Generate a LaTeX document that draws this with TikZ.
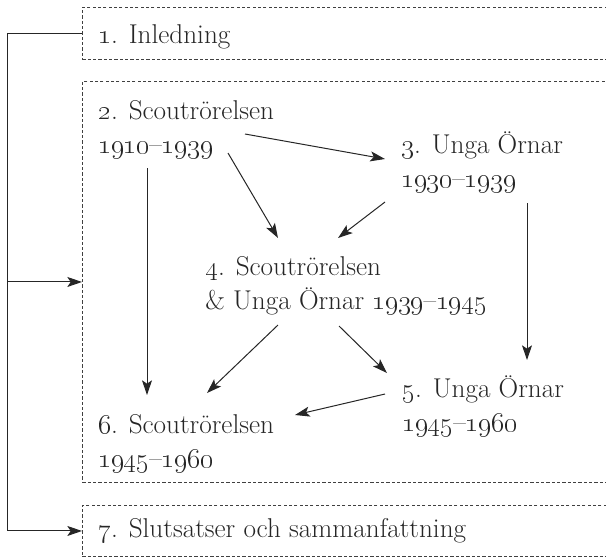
\documentclass[tikz,border=0pt]{standalone}
\usepackage{fix-cm}
\usetikzlibrary{arrows.meta}
\newcommand\myosf[1]{\oldstylenums{#1}}
\begin{document}
\begin{tikzpicture}[x=0.75pt,y=-0.75pt,
  lbl/.style={anchor=base west, inner sep=0pt, text=black!85, font=\fontsize{20.4}{25.5}\selectfont},
  dashbox/.style={draw=black!75, line width=0.7pt, dash pattern=on 2.4pt off 1.6pt, inner sep=0pt, anchor=north west, minimum width=538*0.75pt},
  con/.style={draw=black!85, line width=0.75pt},
  arr/.style={con, -{Stealth[length=11pt,width=7.5pt,inset=2.5pt]}}]
\useasboundingbox (0,0) rectangle (606,557);
\begin{scope}
\clip (0,0) rectangle (606,557);
\node[dashbox, minimum height=52*0.75pt] (b1) at (82,7) {};
\node[dashbox, minimum height=401*0.75pt] (b2) at (82,81) {};
\node[dashbox, minimum height=51*0.75pt] (b7) at (82,505) {};
\end{scope}
\coordinate (spine) at (7,0);
\draw[con] (b1.west) -- (b1.west -| spine) -- (b7.west -| spine);
\draw[arr] (b2.west -| spine) -- (b2.west);
\draw[arr] (b7.west -| spine) -- (b7.west);

\node[lbl] (n1) at (98,43) {\myosf{1}. Inledning};
\node[lbl] (n2) at (98,119) {\begin{tabular}[t]{@{}l@{}}\myosf{2}. Scoutrörelsen\\ \myosf{1910}–\myosf{1939}\end{tabular}};
\node[lbl] (n3) at (401,153) {\begin{tabular}[t]{@{}l@{}}\myosf{3}. Unga Örnar\\ \myosf{1930}–\myosf{1939}\end{tabular}};
\node[lbl] (n4) at (205,275) {\begin{tabular}[t]{@{}l@{}}\myosf{4}. Scoutrörelsen\\ \& Unga Örnar \myosf{1939}–\myosf{1945}\end{tabular}};
\node[lbl] (n5) at (402,397) {\begin{tabular}[t]{@{}l@{}}\myosf{5}. Unga Örnar\\ \myosf{1945}–\myosf{1960}\end{tabular}};
\node[lbl] (n6) at (98,433) {\begin{tabular}[t]{@{}l@{}}\myosf{6}. Scoutrörelsen\\ \myosf{1945}–\myosf{1960}\end{tabular}};
\node[lbl] (n7) at (98,537) {\myosf{7}. Slutsatser och sammanfattning};

\draw[arr] ([shift={(147,15)}]n2.base west) -- ([shift={(-16,6)}]n3.base west);
\draw[arr] ([shift={(130,34)}]n2.base west) -- ([shift={(73,-37)}]n4.base west);
\draw[arr] ([shift={(-16,49)}]n3.base west) -- ([shift={(133,-37)}]n4.base west);
\draw[arr] ([shift={(49,49)}]n2.base west) -- ([shift={(49,-38)}]n6.base west);
\draw[arr] ([shift={(126,50)}]n3.base west) -- ([shift={(125,-37)}]n5.base west);
\draw[arr] ([shift={(134,51)}]n4.base west) -- ([shift={(-15,-24)}]n5.base west);
\draw[arr] ([shift={(73,50)}]n4.base west) -- ([shift={(109,-40)}]n6.base west);
\draw[arr] ([shift={(-17,-3)}]n5.base west) -- ([shift={(197,-18)}]n6.base west);
\end{tikzpicture}
\end{document}
